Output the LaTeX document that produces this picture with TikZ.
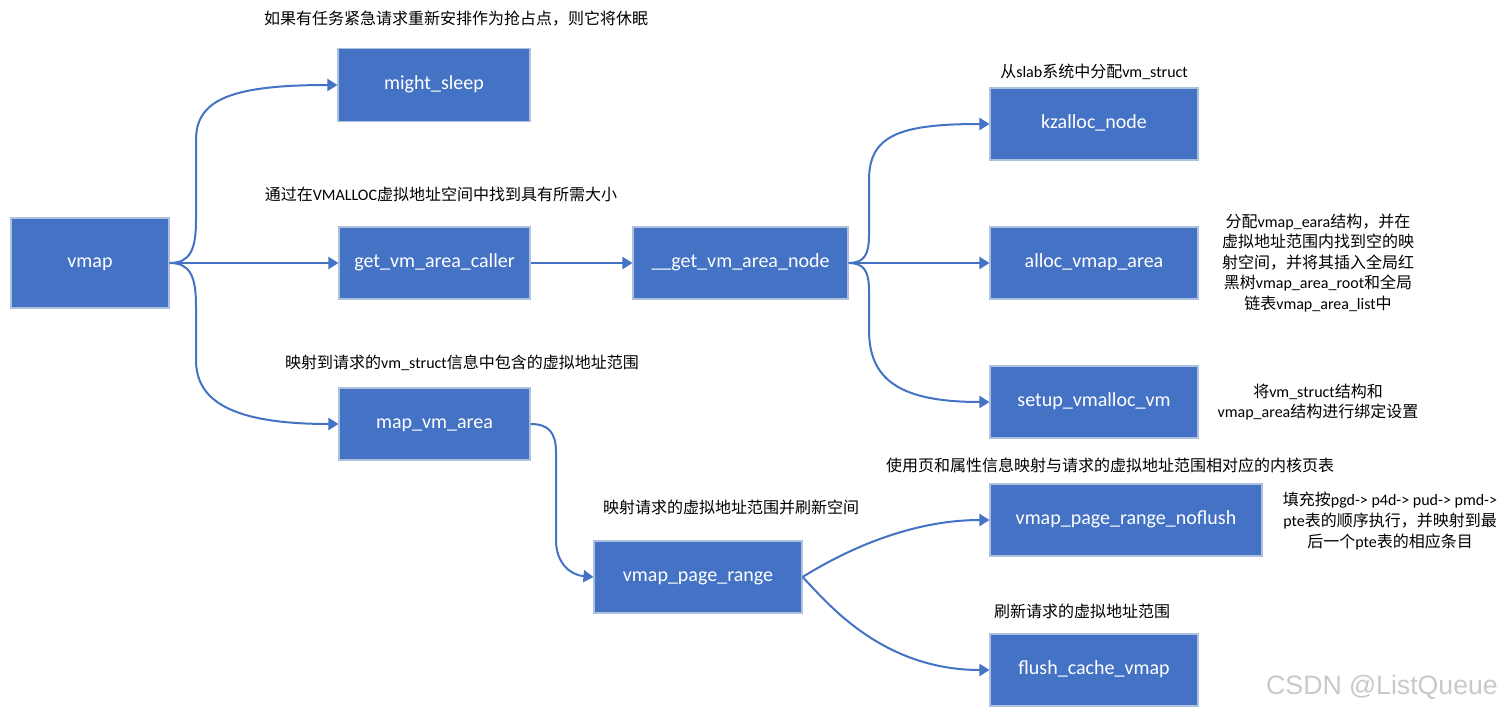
\documentclass[tikz,border=0pt]{standalone}
\usepackage{fontspec}
\setmainfont{Carlito}
\newfontfamily\cjk{Noto Sans CJK SC}
\newfontfamily\wmfont{Liberation Sans}
\newcommand\zh[1]{{\cjk #1}}
\usetikzlibrary{arrows.meta}
\definecolor{boxblue}{HTML}{4472C4}
\definecolor{boxedge}{HTML}{AFC0DE}
\definecolor{wmgray}{HTML}{C9C9C9}
\tikzset{
  box/.style 2 args={draw=boxedge, line width=0.8pt, fill=boxblue, text=white,
    minimum width=#1*0.75pt, minimum height=#2*0.75pt, inner sep=0pt,
    text height=10.5pt, text depth=3.5pt,
    font=\fontsize{15}{18}\selectfont},
  lbl/.style={align=center, inner sep=0pt, text=black,
    font=\fontsize{12}{15.4}\selectfont},
  conn/.style={draw=boxblue, line width=1.5pt,
    -{Triangle[length=7.5pt,width=9pt]}}
}
\begin{document}
\begin{tikzpicture}[x=0.75pt,y=-0.75pt]
\useasboundingbox (0,0) rectangle (1505,713);
\fill[white] (0,0) rectangle (1505,713);

% boxes
\node[box={158}{90}] (vmap) at (90,263) {vmap};
\node[box={192}{73}] (ms) at (434,85) {might\_sleep};
\node[box={191}{72}] (gvac) at (434.5,263) {get\_vm\_area\_caller};
\node[box={215}{72}] (gvan) at (740.5,263) {\_\_get\_vm\_area\_node};
\node[box={208}{72}] (kz) at (1094,124) {kzalloc\_node};
\node[box={208}{72}] (ava) at (1094,263) {alloc\_vmap\_area};
\node[box={208}{72}] (svv) at (1094,402) {setup\_vmalloc\_vm};
\node[box={191}{72}] (mva) at (434.5,424) {map\_vm\_area};
\node[box={208}{72}] (vpr) at (698,577) {vmap\_page\_range};
\node[box={272}{72}] (nf) at (1126,520) {vmap\_page\_range\_noflush};
\node[box={208}{72}] (fc) at (1094,670) {flush\_cache\_vmap};

% labels
\node[lbl] (l1) at (456,19) {\zh{如果有任务紧急请求重新安排作为抢占点，则它将休眠}};
\node[lbl] (l2) at (441,194) {\zh{通过在}VMALLOC\zh{虚拟地址空间中找到具有所需大小}};
\node[lbl] (l3) at (462,363) {\zh{映射到请求的}vm\_struct\zh{信息中包含的虚拟地址范围}};
\node[lbl] (l4) at (731,507) {\zh{映射请求的虚拟地址范围并刷新空间}};
\node[lbl] (l5) at (1094,72) {\zh{从}slab\zh{系统中分配}vm\_struct};
\node[lbl] (l6) at (1318,263) {\zh{分配}vmap\_eara\zh{结构，并在}\\\zh{虚拟地址范围内找到空的映}\\\zh{射空间，并将其插入全局红}\\\zh{黑树}vmap\_area\_root\zh{和全局}\\\zh{链表}vmap\_area\_list\zh{中}};
\node[lbl] (l7) at (1318,402) {\zh{将}vm\_struct\zh{结构和}\\vmap\_area\zh{结构进行绑定设置}};
\node[lbl] (l8) at (1110,465) {\zh{使用页和属性信息映射与请求的虚拟地址范围相对应的内核页表}};
\node[lbl] (l9) at (1390,521) {\zh{填充按}pgd-> p4d-> pud-> pmd->\\pte\zh{表的顺序执行，并映射到最}\\\zh{后一个}pte\zh{表的相应条目}};
\node[lbl] (l10) at (1082,611) {\zh{刷新请求的虚拟地址范围}};
\node[inner sep=0pt, text=wmgray, font=\wmfont\fontsize{20}{24}\selectfont] (wm) at (1382,687) {CSDN @ListQueue};

% connectors
\draw[conn] (vmap.east) .. controls (190,263) and (196,250) .. (196,220) -- (196,140) .. controls (196,100) and (230,85) .. (ms.west);
\draw[conn] (vmap.east) -- (gvac.west);
\draw[conn] (vmap.east) .. controls (190,263) and (196,276) .. (196,306) -- (196,360) .. controls (196,400) and (230,424) .. (mva.west);
\draw[conn] (gvac.east) -- (gvan.west);
\draw[conn] (gvan.east) .. controls (864,263) and (869,255) .. (869,235) -- (869,180) .. controls (869,135) and (900,124) .. (kz.west);
\draw[conn] (gvan.east) -- (ava.west);
\draw[conn] (gvan.east) .. controls (864,263) and (869,271) .. (869,291) -- (869,330) .. controls (869,380) and (900,402) .. (svv.west);
\draw[conn] (mva.east) .. controls (548,424) and (556,432) .. (556,452) -- (556,540) .. controls (556,563) and (570,575) .. (vpr.west);
\draw[conn] (vpr.east) .. controls (830,560) and (900,520) .. (nf.west);
\draw[conn] (vpr.east) .. controls (825,600) and (880,670) .. (fc.west);
\end{tikzpicture}
\end{document}
